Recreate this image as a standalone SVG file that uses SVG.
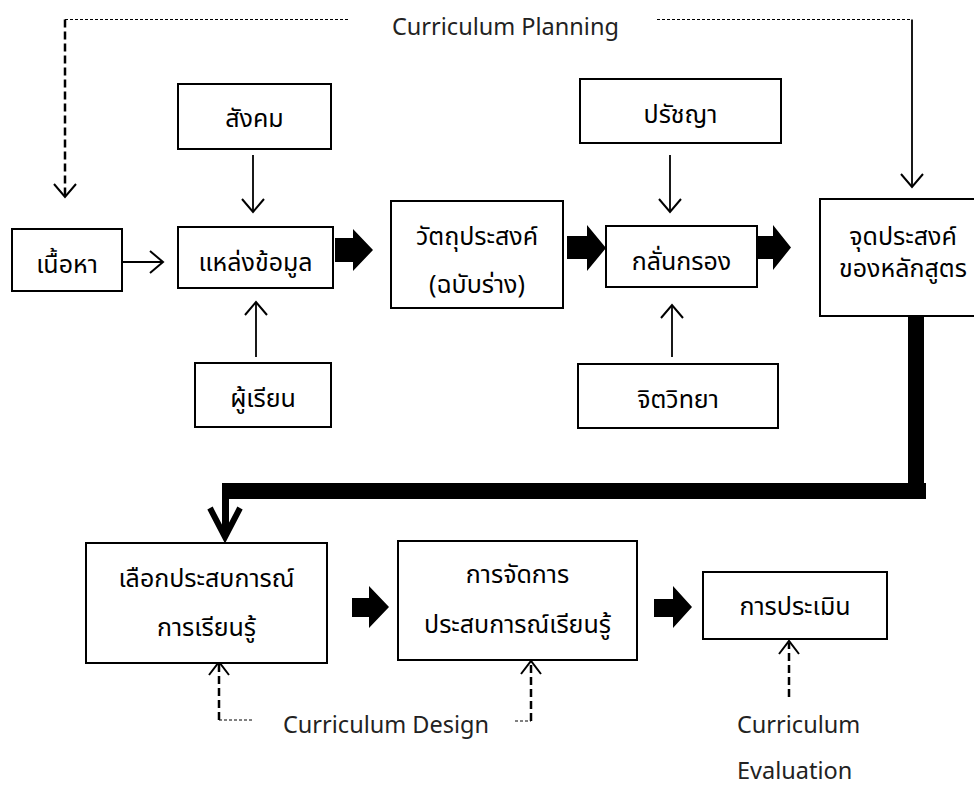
<svg xmlns="http://www.w3.org/2000/svg" width="974" height="785" viewBox="0 0 974 785">
<defs>
<style>
.box{fill:#fff;stroke:#000;stroke-width:2}
.t{font-family:"Noto Sans","Noto Sans Thai","Noto Sans CJK SC",sans-serif;font-size:25px;fill:#000;text-anchor:middle}
.e{font-family:"Noto Sans","Open Sans",sans-serif;font-size:23.5px;fill:#222;text-anchor:start}
.ln{fill:none;stroke:#000;stroke-width:1.8}
.dt{fill:none;stroke:#000;stroke-width:1;stroke-dasharray:3 2}
.dk{fill:none;stroke:#000;stroke-width:2.5;stroke-dasharray:8 4}
.hd{fill:none;stroke:#000;stroke-width:2}
.blk{fill:#000;stroke:none}
</style>
</defs>
<rect width="974" height="785" fill="#fff"/>

<g id="connectors">
  <!-- curriculum planning -->
  <path class="dt" d="M65,19.5 H350"/>
  <path class="dk" d="M65,19.5 V196"/>
  <path class="hd" d="M54,184 L65,197 L76,184"/>
  <path class="dt" d="M657,19.5 H912"/>
  <path class="ln" d="M912,19.5 V187"/>
  <path class="hd" d="M901,174 L912,187 L923,174"/>

  <!-- thin arrows -->
  <path class="ln" d="M253,155 V211"/>
  <path class="hd" d="M242,199 L253,212 L264,199"/>
  <path class="ln" d="M122,262 H162"/>
  <path class="hd" d="M150,251 L163,262 L150,273"/>
  <path class="ln" d="M256,357 V303"/>
  <path class="hd" d="M245,315 L256,302 L267,315"/>
  <path class="ln" d="M670,155 V211"/>
  <path class="hd" d="M659,199 L670,212 L681,199"/>
  <path class="ln" d="M672,357 V306"/>
  <path class="hd" d="M661,318 L672,305 L683,318"/>

  <!-- block arrows -->
  <polygon class="blk" points="335,238 353,238 353,229 373,250 353,271 353,262 335,262"/>
  <polygon class="blk" points="567,236 587,236 587,225 606,248 587,271 587,259 567,259"/>
  <polygon class="blk" points="756,236 773,236 773,225 791,247.5 773,270 773,259 756,259"/>
  <polygon class="blk" points="352,598 369,598 369,586 389,607 369,628 369,617 352,617"/>
  <polygon class="blk" points="654,599 673,599 673,586 692,607 673,628 673,617 654,617"/>

  <!-- thick connector -->
  <rect class="blk" x="908" y="316" width="16" height="183"/>
  <rect class="blk" x="222" y="483" width="704" height="16"/>
  <rect class="blk" x="222" y="483" width="7" height="50"/>
  <path d="M210,508 L225,537 L240,508" fill="none" stroke="#000" stroke-width="6" stroke-linejoin="miter"/>

  <!-- dashed feedback arrows -->
  <path class="dk" d="M219,720 V664"/>
  <path class="dt" d="M219,720 H252"/>
  <path class="hd" d="M209,675 L219,662 L229,675"/>
  <path class="dk" d="M531,721 V663"/>
  <path class="dt" d="M515,721 H531"/>
  <path class="hd" d="M521,674 L531,661 L541,674"/>
  <path class="dk" d="M789,697 V643"/>
  <path class="hd" d="M779,654 L789,641 L799,654"/>
</g>

<g id="label-planning"><text class="e" x="392" y="35">Curriculum Planning</text></g>
<g id="label-design"><text class="e" x="283" y="733">Curriculum Design</text></g>
<g id="label-evaluation"><text class="e" x="737" y="733">Curriculum</text><text class="e" x="737" y="779">Evaluation</text></g>

<g id="n-society"><rect class="box" x="178" y="84" width="153" height="65"/><text class="t" x="254.5" y="127">สังคม</text></g>
<g id="n-philosophy"><rect class="box" x="580" y="79" width="201" height="64"/><text class="t" x="680.5" y="123">ปรัชญา</text></g>
<g id="n-content"><rect class="box" x="12" y="229" width="110" height="62"/><text class="t" x="67" y="273">เนื้อหา</text></g>
<g id="n-sources"><rect class="box" x="178" y="227" width="155" height="61"/><text class="t" x="255.5" y="271">แหล่งข้อมูล</text></g>
<g id="n-draft"><rect class="box" x="391" y="201" width="172" height="107"/><text class="t" x="477" y="245">วัตถุประสงค์</text><text class="t" x="477" y="293">(ฉบับร่าง)</text></g>
<g id="n-screen"><rect class="box" x="606" y="226" width="151" height="61"/><text class="t" x="681.5" y="270">กลั่นกรอง</text></g>
<g id="n-aims"><rect class="box" x="820" y="199" width="170" height="117"/><text class="t" x="903" y="245">จุดประสงค์</text><text class="t" x="903" y="277">ของหลักสูตร</text></g>
<g id="n-learner"><rect class="box" x="195" y="363" width="136" height="64"/><text class="t" x="263" y="407">ผู้เรียน</text></g>
<g id="n-psych"><rect class="box" x="578" y="364" width="200" height="64"/><text class="t" x="678" y="408">จิตวิทยา</text></g>
<g id="n-select"><rect class="box" x="86" y="543" width="241" height="120"/><text class="t" x="206.5" y="587">เลือกประสบการณ์</text><text class="t" x="206.5" y="636">การเรียนรู้</text></g>
<g id="n-organize"><rect class="box" x="398" y="541" width="239" height="119"/><text class="t" x="517.5" y="583">การจัดการ</text><text class="t" x="517.5" y="633">ประสบการณ์เรียนรู้</text></g>
<g id="n-evaluate"><rect class="box" x="703" y="572" width="184" height="67"/><text class="t" x="795" y="615">การประเมิน</text></g>
</svg>
